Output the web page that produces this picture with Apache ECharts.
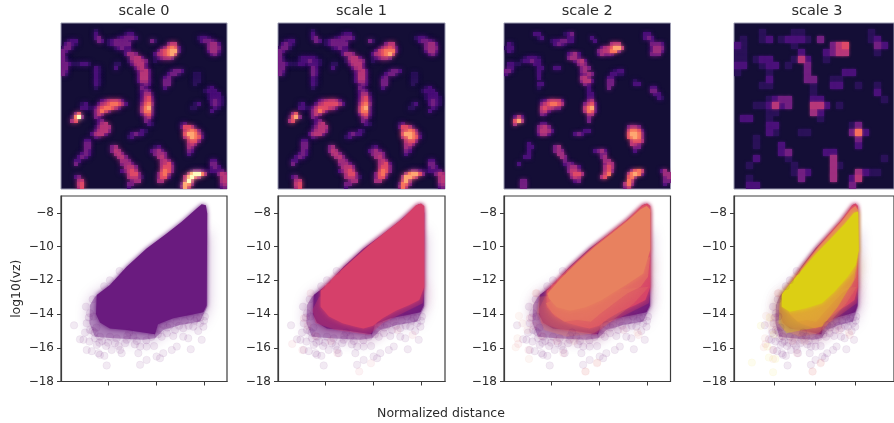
<!DOCTYPE html>
<html><head><meta charset="utf-8">
<style>html,body{margin:0;padding:0;background:#fff;overflow:hidden}#c{width:894px;height:423px}</style>
<script src="https://cdn.jsdelivr.net/npm/echarts@6/dist/echarts.min.js"></script>
</head><body><div id="c"></div>
<script>
const panelNames = ['scale 0','scale 1','scale 2','scale 3'];
const yTicks = [-18,-16,-14,-12,-10,-8];
const xTicksWide = [0.5,0.75,1];
const xTicksLast = [0.392,0.696,1];
// heat cells: [row, first column, digits 0-9]
const heatScale0 = [
[2,10,"1"],[3,10,"2"],[3,19,"122"],[4,10,"23"],[4,17,"123332"],[4,41,"1221"],[5,2,"122"],[5,11,"32"],[5,14,"1233332"],[5,27,"31"],[5,42,"23321"],
[6,1,"2321"],[6,14,"1233333"],[6,32,"355"],[6,44,"3442"],[7,0,"1331"],[7,16,"12322"],[7,30,"136762"],[7,44,"3443"],
[8,0,"32"],[8,19,"22"],[8,29,"2567882"],[8,44,"2442"],[9,0,"3"],[9,19,"2443"],[9,28,"2456785"],[9,45,"231"],
[10,0,"31"],[10,20,"14552"],[10,28,"123443"],[11,0,"31"],[11,20,"135543"],[11,28,"1"],[12,0,"332111221"],[12,16,"11"],[12,21,"24552"],
[13,0,"33"],[13,10,"21"],[13,16,"2"],[13,22,"2452"],[14,0,"32"],[14,10,"21"],[14,23,"2452"],[14,33,"1332"],[15,0,"31"],[15,10,"21"],[15,23,"2552"],[15,32,"2331"],[15,40,"11"],
[16,10,"21"],[16,23,"2552"],[16,31,"23"],[16,40,"11"],[17,10,"21"],[17,23,"2442"],[17,31,"33"],[17,40,"11"],[18,10,"21"],[18,24,"232"],[18,31,"33"],[18,40,"1"],
[19,10,"1"],[19,24,"32"],[19,31,"2"],[19,44,"12"],[20,24,"232"],[20,43,"1222"],[21,24,"2441"],[21,44,"1222"],[22,24,"2562"],[22,44,"12221"],
[23,12,"2345542"],[23,24,"2562"],[23,45,"2321"],[24,6,"12"],[24,11,"245677642"],[24,24,"3673"],[24,40,"12"],[24,45,"2321"],[25,6,"2211"],[25,10,"24677642"],[25,24,"4782"],[25,39,"11"],[25,46,"21"],
[26,10,"35752"],[26,24,"4772"],[26,45,"2"],[27,4,"36"],[27,10,"353"],[27,24,"2562"],[28,3,"1793"],[28,10,"32"],[28,25,"341"],[29,3,"46"],[29,11,"23"],[29,25,"32"],
[30,11,"245"],[30,26,"21"],[30,36,"12"],[31,10,"13554"],[31,36,"26641"],[32,10,"24553"],[32,24,"21"],[32,37,"56763"],[33,9,"24552"],[33,21,"2322"],[33,37,"688741"],
[34,10,"21"],[34,20,"12"],[34,37,"468762"],[35,7,"22"],[35,38,"5663"],[36,7,"33"],[36,38,"453"],[37,7,"33"],[37,15,"34"],[37,28,"12"],[37,38,"43"],
[38,7,"32"],[38,15,"354"],[38,27,"2342"],[38,38,"32"],[39,6,"232"],[39,16,"453"],[39,28,"3443"],[39,38,"2"],[40,5,"232"],[40,17,"453"],[40,29,"453"],
[41,4,"22"],[41,18,"443"],[41,30,"453"],[41,45,"22"],[42,4,"3"],[42,18,"3442"],[42,30,"4562"],[42,45,"33"],[43,19,"4553"],[43,30,"4663"],[43,45,"232"],
[44,18,"23564"],[44,30,"5763"],[44,39,"1332"],[44,43,"112222"],[45,20,"4663"],[45,29,"3673"],[45,38,"489974"],[45,47,"354"],[46,4,"23"],[46,20,"45531"],[46,29,"3662"],[46,37,"58964"],[46,48,"45"],
[47,5,"45"],[47,21,"344"],[47,29,"44"],[47,37,"595"],[47,48,"45"],[48,5,"56"],[48,20,"33"],[48,36,"2873"],[48,48,"34"],[49,5,"46"],[49,20,"2"],[49,36,"385"],[49,48,"23"]
];
const heatScale1Extra = [
[10,6,"122221"],[11,6,"1223221"],[12,9,"2221"],[13,10,"32"],[14,10,"32"],[15,10,"32"],[7,30,"135652"],[8,29,"2567772"],[45,38,"478863"],[46,37,"48864"],[47,37,"584"],[48,36,"2763"],[49,36,"374"],
[24,11,"245666642"],[25,10,"24666542"],[28,3,"1683"]
];
const heatScale2 = [
[3,9,"22"],[3,18,"123"],[3,42,"22"],[4,10,"12"],[4,19,"22"],[4,26,"2"],[4,42,"232"],[5,14,"1223322"],[5,27,"2"],[5,44,"2"],[6,1,"21"],[6,15,"2321"],[6,32,"455"],[6,44,"3332"],
[7,0,"122"],[7,29,"2456885"],[7,44,"2443"],[8,1,"21"],[8,28,"3455773"],[8,44,"2442"],[9,19,"2342"],[9,28,"24332"],[9,44,"333"],[10,6,"12221"],[10,19,"3442"],[11,5,"122322"],[11,21,"2452"],
[12,1,"2211"],[12,9,"22"],[12,22,"343"],[13,1,"22"],[13,10,"22"],[13,15,"22"],[13,23,"343"],[14,0,"331"],[14,10,"2"],[14,23,"34"],[14,33,"122"],[15,0,"2"],[15,10,"2"],[15,23,"2343"],[15,32,"2211"],
[16,10,"2"],[16,23,"453"],[16,31,"22"],[17,23,"3552"],[17,31,"33"],[17,39,"1"],[18,10,"22"],[18,24,"32"],[18,31,"33"],[18,39,"22"],[19,10,"1"],[19,25,"2"],[19,31,"3"],[19,44,"22"],[20,25,"2"],[20,44,"33"],
[21,25,"22"],[21,45,"22"],[22,25,"22"],[22,46,"21"],[23,11,"1245552"],[23,25,"34"],[24,11,"3567764"],[24,24,"3562"],[25,11,"565433"],[25,24,"5782"],[26,11,"452"],[26,24,"4762"],[27,11,"32"],[27,25,"44"],
[28,3,"252"],[28,25,"3"],[29,3,"684"],[29,25,"3"],[30,3,"4"],[30,11,"22"],[31,10,"3453"],[31,37,"3443"],[32,10,"35542"],[32,24,"22"],[32,37,"57762"],[33,10,"2442"],[33,21,"232"],[33,37,"68873"],
[34,37,"67873"],[35,38,"5664"],[36,7,"2"],[36,38,"543"],[37,7,"22"],[37,15,"34"],[37,39,"33"],[38,7,"2"],[38,15,"343"],[38,27,"2342"],[38,39,"2"],[39,7,"2"],[39,16,"44"],[39,29,"33"],
[40,6,"22"],[40,17,"43"],[40,29,"34"],[41,18,"3"],[41,30,"44"],[42,4,"2"],[42,18,"232"],[42,30,"354"],[43,19,"3442"],[43,30,"464"],[44,19,"3553"],[44,30,"463"],[44,38,"3675"],[44,47,"24"],
[45,20,"4664"],[45,30,"57"],[45,37,"47872"],[45,48,"44"],[46,20,"354"],[46,29,"46"],[46,37,"673"],[46,48,"34"],[47,5,"33"],[47,21,"23"],[47,37,"74"],[47,48,"33"],[48,5,"33"],[48,36,"473"],[48,48,"2"],[49,5,"33"],[49,36,"35"]
];
const heatScale3 = [
[1,4,"1"],[1,9,"11"],[1,21,"1"],[2,1,"1"],[2,4,"12"],[2,7,"12221"],[2,13,"3"],[2,21,"12"],[3,0,"21"],[3,9,"1"],[3,15,"356"],[3,22,"32"],[4,0,"11"],[4,10,"2"],[4,14,"2355"],[4,22,"1"],
[5,0,"11"],[5,3,"122"],[5,9,"152"],[5,14,"1"],[6,0,"22"],[6,4,"122"],[6,8,"1"],[6,11,"3"],[7,0,"1"],[7,5,"1"],[7,11,"3"],[7,17,"22"],[8,5,"2"],[8,11,"33"],[8,15,"11"],[9,4,"11"],[9,12,"1"],[9,15,"22"],[9,19,"1"],[9,22,"1"],
[10,12,"1"],[10,22,"2"],[11,5,"1233"],[11,12,"22"],[11,23,"1"],[12,3,"111"],[12,5,"2523"],[12,12,"552"],[12,16,"1"],[13,5,"11"],[13,12,"42"],[14,1,"22"],[14,5,"1"],[14,13,"1"],[15,5,"22"],[15,18,"13"],[16,5,"21"],[16,10,"11"],[16,18,"372"],
[17,3,"1"],[17,19,"3"],[18,3,"1"],[18,7,"2"],[18,19,"2"],[19,7,"23"],[19,14,"22"],[20,3,"2"],[20,8,"1"],[20,15,"4"],[20,23,"1"],[21,2,"1"],[21,9,"1"],[21,15,"41"],[22,9,"132"],[22,15,"4"],[22,19,"42"],[22,21,"11"],[23,2,"1"],[23,10,"3"],[23,15,"4"],[23,18,"25"],[24,2,"22"],[24,18,"3"]
];
// point clouds: solid mass outlines, thinner fringes, stray points [distance, log10(vz)]
const coreScale0 = [[.441,-12.87],[.51,-12.28],[.597,-11.2],[.701,-10.11],[.806,-9.22],[.884,-8.53],[.962,-7.74],[.988,-7.49],[1.01,-7.55],[1.017,-8.04],[1.014,-13.5],[.997,-13.9],[.927,-14.05],[.84,-14.25],[.76,-14.6],[.745,-15.2],[.684,-15.1],[.597,-14.95],[.51,-14.85],[.458,-14.5],[.4375,-14]];
const fringeScale0 = [[.432,-12.97],[.406,-13.46],[.403,-14.55],[.432,-15.34],[.528,-15.44],[.684,-15.53],[.745,-15.44],[.788,-14.94],[.875,-14.65],[.979,-14.45],[1.017,-13.56],[1.017,-9]];
const strayScale0 = [[.323,-14.67],[.354,-15.5],[.385,-13.56],[.42,-13.13],[.389,-16.13],[.372,-15.53],[.403,-15.63],[.441,-15.83],[.432,-15.44],[.458,-16.42],[.45,-16.32],[.493,-17.05],[.481,-16.48],[.519,-16.13],[.563,-16.13],[.571,-16.32],[.536,-15.73],[.597,-15.53],[.658,-16.32],[.667,-17.01],[.701,-16.72],[.667,-15.93],[.701,-15.93],[.753,-16.52],[.788,-16.32],[.771,-16.62],[.832,-16.13],[.858,-15.93],[.892,-15.34],[.918,-15.44],[.931,-16.09],[.988,-15.53],[.979,-14.55],[.927,-14.15],[.962,-14.25],[.858,-14.45],[.823,-14.65],[.788,-14.65],[.389,-14.55],[.406,-14.94],[.424,-14.15],[.458,-15.34],[.51,-15.34],[.545,-15.44],[.589,-15.73],[.632,-15.34],[.727,-15.34],[.771,-14.94],[.806,-15.14],[.849,-14.94],[.892,-14.84],[.944,-14.75],[.997,-14.75],[1.005,-14.15],[.406,-13.96],[.48,-12.35],[.51,-12],[.56,-11.45],[.42,-15],[.44,-14.8],[.47,-15.6],[.5,-15.7],[.61,-15.1],[.65,-15.6],[.78,-15.35],[.84,-15.3],[.9,-14.4],[.97,-15],[.38,-15.1],[.415,-16.2],[.4,-14.2],[.43,-15.1],[.455,-15.7],[.49,-15.9],[.555,-15.9],[.6,-15.3],[.64,-15.8],[.7,-15.55],[.74,-15.9],[.76,-15.2],[.81,-14.8],[.87,-14.7],[.92,-14.7],[.95,-14.4],[1,-14.4],[.98,-14.2]];
const coreScale1 = [[.477,-12.6],[.556,-11.7],[.643,-10.8],[.73,-9.92],[.817,-9.12],[.904,-8.35],[.974,-7.55],[1,-7.45],[1.017,-7.6],[1.017,-12.38],[.991,-13.17],[.939,-13.46],[.869,-13.8],[.8,-14.25],[.75,-14.7],[.7,-14.85],[.66,-14.75],[.591,-14.55],[.521,-14.15],[.477,-13.56]];
const fringeScale1 = [[.469,-12.97],[.434,-13.76],[.451,-14.55],[.556,-14.94],[.73,-15.24],[.8,-14.55],[.904,-13.96],[1.009,-13.36],[1.02,-12.38]];
const strayScale1 = [[.329,-15.77],[.425,-12.77],[.39,-14.25],[.382,-16.13],[.739,-16.92],[.678,-17.41],[.956,-15.24],[.878,-14.94],[.564,-16.32],[.41,-14.7],[.45,-15.3],[.53,-15.6]];
const coreScale2 = [[.481,-12.8],[.55,-11.9],[.637,-10.95],[.724,-10.05],[.811,-9.27],[.898,-8.48],[.967,-7.78],[.998,-7.6],[1.016,-7.8],[1.016,-10.2],[.98,-11.6],[.9,-12.2],[.83,-12.7],[.76,-13.2],[.68,-13.6],[.6,-13.8],[.53,-13.6],[.49,-13.1]];
const fringeScale2 = [[.472,-13.36],[.507,-13.96],[.568,-14.45],[.637,-14.35],[.707,-14.45],[.759,-13.96],[.828,-13.36],[.898,-12.77],[.967,-12.38],[1.005,-11.79],[1.016,-10.6]];
const haloScale2 = [[.437,-12.97],[.427,-13.96],[.464,-14.94],[.585,-15.34],[.724,-15.14],[.811,-14.45],[.932,-13.36],[1.01,-12.38]];
const strayScale2 = [[.333,-14.11],[.316,-15.97],[.325,-15.44],[.385,-16.66],[.42,-12.77],[.741,-16.88],[.681,-17.41],[.351,-14.55],[.377,-14.94],[.95,-15.1],[.62,-15.6]];
const coreScale3 = [[.45,-12.82],[.51,-12.23],[.605,-11.34],[.701,-10.45],[.821,-9.47],[.916,-8.68],[.988,-8],[1.019,-7.92],[1.024,-10.21],[1,-11.1],[.94,-11.79],[.844,-12.67],[.749,-13.36],[.629,-13.66],[.51,-13.86],[.45,-13.56]];
const fringeScale3 = [[.438,-13.17],[.426,-14.55],[.486,-15.14],[.605,-14.94],[.749,-14.75],[.868,-13.56],[.988,-11.98],[1.02,-10.5]];
const strayScale3 = [[.227,-16.88],[.385,-17.45],[.354,-16.58],[.294,-14.69],[.402,-16.66],[.342,-15.93],[.36,-14.2],[.39,-15.2]];

const lefts = [61,278,504,734], widths = [166,167,166.5,166];
const xRanges = [[.255,1.12],[.255,1.125],[.255,1.122],[.094,1.286]];
const heatSizes = [50,50,50,25];
const heatBlur = [5,5,4,3];
const heatRows = [heatScale0, heatScale0.concat(heatScale1Extra), heatScale2, heatScale3];
const cloudColors = ['#6a1b7f','#d6406a','#e8815f','#dccf14'];
const clouds = [
  {core:coreScale0, fringes:[[fringeScale0,.4]], stray:strayScale0},
  {core:coreScale1, fringes:[[fringeScale1,.3]], stray:strayScale1},
  {core:coreScale2, fringes:[[haloScale2,.25],[fringeScale2,.45]], stray:strayScale2},
  {core:coreScale3, fringes:[[fringeScale3,.35]], stray:strayScale3}
];
const magma = ['#140e36','#2a1158','#4a1079','#721f81','#9e2f7f','#b73779','#de4968','#f7705c','#fea772','#fcfdbf'];
const font = '"DejaVu Sans"', ink = '#2b2b2b', spine = '#3c3c3c';

function cells(rows){
  const map = new Map();
  rows.forEach(([r,c,s]) => [...s].forEach((d,i) => map.set((c+i)+','+r, [c+i, r, +d])));
  return [...map.values()].sort((a,b) => a[2]-b[2]);
}
function heatSeries(data, g, blur){
  return {type:'custom', xAxisIndex:g, yAxisIndex:g, silent:true, animation:false, clip:true, encode:{x:0,y:1}, data,
    renderItem(p, api){
      const c = api.coord([api.value(0), api.value(1)]), s = api.size([1,1]), col = api.visual('color');
      return {type:'rect', shape:{x:Math.floor(c[0]-s[0]/2), y:Math.floor(c[1]-s[1]/2), width:Math.ceil(s[0]), height:Math.ceil(s[1])},
        style:{fill:col, shadowBlur:blur, shadowColor:col}};
    }};
}
function polygonSeries(points, color, alpha, blur, g){
  return {type:'custom', xAxisIndex:g, yAxisIndex:g, silent:true, animation:false, clip:true,
    encode:{x:0,y:1}, data:points,
    renderItem(p, api){
      if (p.dataIndex !== 0) return null;
      return {type:'polygon', shape:{points:points.map(q => api.coord(q))},
        style:{fill:color, opacity:alpha, shadowBlur:blur, shadowColor:color}};
    }};
}
const grid=[], xAxis=[], yAxis=[], series=[], title=[], heatIdx=[];
panelNames.forEach((name,i) => {
  title.push({text:name, left:lefts[i]+widths[i]/2, top:4, padding:0, textAlign:'center',
    textStyle:{fontFamily:font, fontSize:14.5, fontWeight:'normal', color:ink}});
  const gh = grid.length, n = heatSizes[i];
  const idx = Array.from({length:n},(_,k)=>k);
  grid.push({left:lefts[i], top:23, width:widths[i], height:166, show:true, backgroundColor:magma[0], borderColor:'#9a9ab0', borderWidth:1});
  xAxis.push({type:'category', gridIndex:gh, data:idx, show:false});
  yAxis.push({type:'category', gridIndex:gh, data:idx, show:false, inverse:true});
  heatIdx.push(series.length);
  series.push(heatSeries(cells(heatRows[i]), gh, heatBlur[i]));
  const gs = grid.length;
  grid.push({left:lefts[i], top:196, width:widths[i], height:185.5, show:true, backgroundColor:'#fff', borderColor:spine, borderWidth:1.2});
  const xt = i===3 ? xTicksLast : xTicksWide;
  xAxis.push({type:'value', gridIndex:gs, min:xRanges[i][0], max:xRanges[i][1], splitLine:{show:false},
    axisLine:{show:true, onZero:false, lineStyle:{color:spine, width:1.2}},
    axisTick:{show:true, length:4, customValues:xt, lineStyle:{color:spine}}, axisLabel:{show:false}});
  yAxis.push({type:'value', gridIndex:gs, min:-18, max:-7, splitLine:{show:false},
    name:i===0?'log10(vz)':'', nameLocation:'middle', nameGap:38, nameRotate:90,
    nameTextStyle:{fontFamily:font, fontSize:12.4, color:ink},
    axisLine:{show:true, lineStyle:{color:spine, width:1.2}},
    axisTick:{show:true, length:4, customValues:yTicks, lineStyle:{color:spine}},
    axisLabel:{show:true, customValues:yTicks, margin:7, fontFamily:font, fontSize:12, color:ink,
      formatter:v => String(v).replace('-','\u2212')}});
  for (let k=0; k<=i; k++){
    const cl = clouds[k], col = cloudColors[k];
    series.push({type:'scatter', xAxisIndex:gs, yAxisIndex:gs, silent:true, animation:false, symbolSize:7.5,
      data:cl.stray, itemStyle:{color:col, opacity:k===0?.09:.07, borderColor:col, borderWidth:.6}});
    cl.fringes.forEach(([f,a]) => series.push(polygonSeries(f, col, a, 14, gs)));
    series.push(polygonSeries(cl.core, col, 1, 4, gs));
  }
});
title.push({text:'Normalized distance', left:441, top:407, padding:0, textAlign:'center',
  textStyle:{fontFamily:font, fontSize:12.5, fontWeight:'normal', color:ink}});
const chart = echarts.init(document.getElementById('c'), null, {renderer:'canvas', width:894, height:423});
chart.setOption({animation:false, backgroundColor:'#fff', title, grid, xAxis, yAxis, series,
  visualMap:{show:false, type:'continuous', seriesIndex:heatIdx, dimension:2, min:0, max:9, inRange:{color:magma}}});
</script></body></html>
